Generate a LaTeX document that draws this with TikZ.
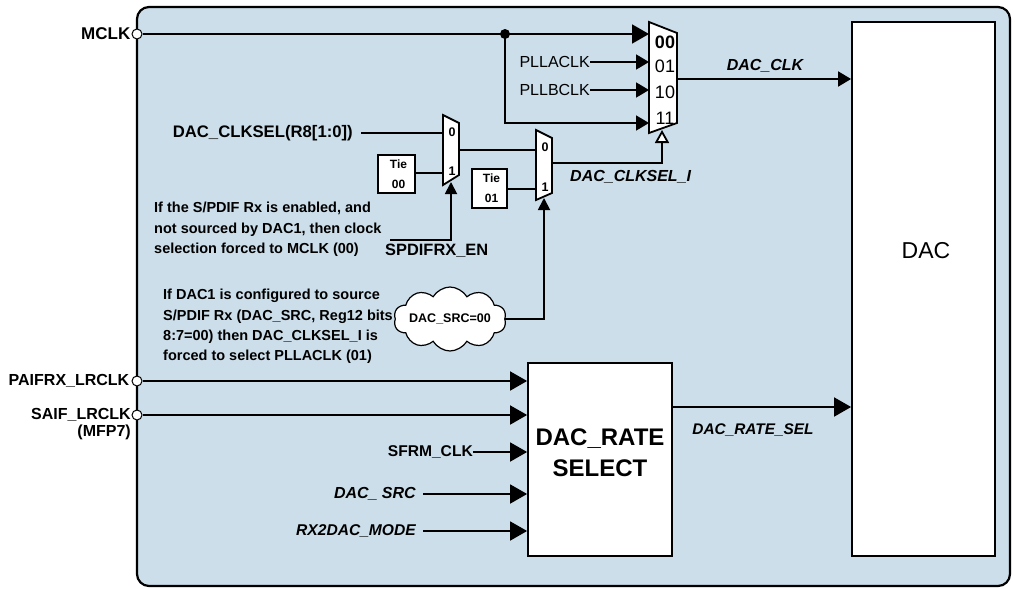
\documentclass[tikz,border=0pt]{standalone}
\usepackage{fontspec}
\setmainfont{Liberation Sans}
\usetikzlibrary{arrows.meta,shapes.symbols,positioning}
\definecolor{panel}{RGB}{204,222,234}
\tikzset{
	sig/.style={line width=1.8pt},
	wire/.style={line width=1.2pt},
	bigarr/.style={-{Triangle[length=17pt,width=19pt]}},
	midarr/.style={-{Triangle[length=13pt,width=15pt]}},
	selarr/.style={-{Triangle[length=12pt,width=12pt]}},
	pin/.style={circle, draw, fill=white, line width=1pt, minimum size=10pt, inner sep=0pt},
	box/.style={draw, fill=white, line width=1.8pt, inner sep=0pt},
	lbl/.style={font=\bfseries\fontsize{16}{17}\selectfont, inner sep=0pt},
	ilbl/.style={font=\bfseries\itshape\fontsize{16}{17}\selectfont, inner sep=0pt},
	note/.style={font=\bfseries\fontsize{14.5}{20.3}\selectfont, align=left, inner sep=0pt},
	tiebox/.style={draw, fill=white, line width=1.2pt, minimum width=37pt, minimum height=38pt, inner sep=0pt, align=center, font=\bfseries\fontsize{12}{20}\selectfont},
	muxbit/.style={font=\bfseries\fontsize{12.5}{13}\selectfont, inner sep=0pt}
}
\begin{document}
\begin{tikzpicture}[x=1pt,y=-1pt]
	\useasboundingbox (0,0) rectangle (1015,589);
	% panel
	\draw[line width=2.2pt, fill=panel, rounded corners=12pt] (137,7) rectangle (1010,586);
	% points
	\coordinate (tap) at (505,34);
	\coordinate (in00) at (649,34);
	\coordinate (in01) at (649,62);
	\coordinate (in10) at (649,90);
	\coordinate (in11) at (649,123);
	\coordinate (mxout) at (677,79);
	\coordinate (mxsel) at (662,130);
	\coordinate (m1in0) at (443,133);
	\coordinate (m1in1) at (443,173);
	\coordinate (m1out) at (459,150);
	\coordinate (m1sel) at (451,182);
	\coordinate (m2in0) at (536,150);
	\coordinate (m2in1) at (536,189);
	\coordinate (m2out) at (552,163);
	\coordinate (m2sel) at (544,198);
	\coordinate (enk) at (390,240);
	\coordinate (rsel) at (672,407);
	% blocks
	\node[box, minimum width=143pt, minimum height=534pt] (dac) at (923.5,289) {};
	\node[font=\fontsize{23}{24}\selectfont] (daclbl) at (926,251) {DAC};
	\node[box, minimum width=144pt, minimum height=193pt] (rate) at (600,459.5) {};
	\node[font=\bfseries\fontsize{24}{31}\selectfont, align=center, inner sep=0pt] (ratelbl) at (600,453) {DAC\_RATE\\SELECT};
	% muxes
	\draw[sig, fill=white] (649,22) -- (677,33) -- (677,123) -- (649,133) -- cycle;
	\node[font=\bfseries\fontsize{18}{18}\selectfont] at (665,42) {00};
	\node[font=\fontsize{18}{18}\selectfont] at (665,66) {01};
	\node[font=\fontsize{18}{18}\selectfont] at (665,92) {10};
	\node[font=\fontsize{18}{18}\selectfont] at (665,118) {11};
	\draw[sig, fill=white] (443,115) -- (459,123) -- (459,175) -- (443,185) -- cycle;
	\node[muxbit] at (452,132) {0};
	\node[muxbit] at (452,171) {1};
	\draw[sig, fill=white] (536,130) -- (552,138) -- (552,193) -- (536,200) -- cycle;
	\node[muxbit] at (545,147) {0};
	\node[muxbit] at (545,187) {1};
	% pins
	\node[pin] (mclk) at (137,34) {};
	\node[pin] (paifrx) at (137,381) {};
	\node[pin] (saif) at (137,415) {};
	\node[lbl, anchor=east, font=\bfseries\fontsize{17}{18}\selectfont] (mclklbl) at ([xshift=-1pt]mclk.west) {MCLK};
	\node[lbl, anchor=east] (paifrxlbl) at ([xshift=-2pt]paifrx.west) {PAIFRX\_LRCLK};
	\node[lbl, anchor=north east, align=right, font=\bfseries\fontsize{16}{17}\selectfont] (saiflbl) at (131,408) {SAIF\_LRCLK\\(MFP7)};
	% clock mux
	\draw[sig, bigarr] (mclk) -- (in00);
	\fill (tap) circle (5pt);
	\draw[sig, midarr] (tap) |- (in11);
	\node[anchor=east, inner sep=0pt, font=\fontsize{16}{17}\selectfont] (pllaclk) at (590,62) {PLLACLK};
	\node[anchor=east, inner sep=0pt, font=\fontsize{16}{17}\selectfont] (pllbclk) at (590,90) {PLLBCLK};
	\draw[sig, midarr] (pllaclk) -- (in01);
	\draw[sig, midarr] (pllbclk) -- (in10);
	\draw[sig, midarr] (mxout) -- (mxout -| dac.west);
	\node[ilbl] (dacclk) at (765,66) {DAC\_CLK};
	% select chain
	\node[lbl, anchor=east, font=\bfseries\fontsize{16.7}{18}\selectfont] (clksel) at (353,133) {DAC\_CLKSEL(R8[1:0])};
	\draw[wire] ([xshift=8pt]clksel.east) -- (m1in0);
	\node[tiebox] (tie0) at (396.5,174) {\hspace*{4pt}Tie\\\hspace*{4pt}00};
	\node[tiebox, minimum width=35pt, minimum height=39pt] (tie1) at (489.5,188.5) {\hspace*{4pt}Tie\\\hspace*{4pt}01};
	\draw[wire] (tie0.east |- m1in1) -- (m1in1);
	\draw[wire] (m1out) -- (m2in0);
	\draw[wire] (tie1.east |- m2in1) -- (m2in1);
	\draw[sig, -{Triangle[length=13pt,width=14pt,fill=white]}] (m2out) -| (mxsel);
	\node[ilbl, anchor=west] (clkseli) at (570,177) {DAC\_CLKSEL\_I};
	\node[lbl, anchor=north west, font=\bfseries\fontsize{16.4}{17}\selectfont] (spdifen) at (385,244) {SPDIFRX\_EN};
	\draw[sig, selarr] (enk) -| (m1sel);
	\node[note, anchor=north west] (note1) at (154,202) {If the S/PDIF Rx is enabled, and\\not sourced by DAC1, then clock\\selection forced to MCLK (00)};
	\node[note, anchor=north west] (note2) at (163,289) {If DAC1 is configured to source\\S/PDIF Rx (DAC\_SRC, Reg12 bits\\8:7=00) then DAC\_CLKSEL\_I is\\forced to select PLLACLK (01)};
	\node[cloud, draw, fill=white, line width=1.2pt, cloud puffs=10, cloud puff arc=120, cloud ignores aspect, minimum width=105pt, minimum height=64pt, inner sep=0pt, font=\bfseries\fontsize{12.5}{14}\selectfont] (srccloud) at (450,319) {DAC\_SRC=00};
	\draw[sig, selarr] (srccloud.east) -| (m2sel);
	% rate select
	\draw[sig, bigarr] (paifrx) -- (paifrx -| rate.west);
	\draw[sig, bigarr] (saif) -- (saif -| rate.west);
	\node[lbl, anchor=east, font=\bfseries\fontsize{15.6}{17}\selectfont] (sfrm) at (473,452) {SFRM\_CLK};
	\draw[sig, bigarr] (sfrm) -- (sfrm -| rate.west);
	\node[ilbl, anchor=east, inner xsep=7pt] (dacsrc) at (423,494) {DAC\_ SRC};
	\draw[sig, bigarr] (dacsrc) -- (dacsrc -| rate.west);
	\node[ilbl, anchor=east, inner xsep=7pt, font=\bfseries\itshape\fontsize{15.6}{17}\selectfont] (rx2dac) at (423,531) {RX2DAC\_MODE};
	\draw[sig, bigarr] (rx2dac) -- (rx2dac -| rate.west);
	\draw[sig, bigarr] (rsel) -- (rsel -| dac.west);
	\node[ilbl, font=\bfseries\itshape\fontsize{15.4}{17}\selectfont] (ratesel) at (753,430) {DAC\_RATE\_SEL};
\end{tikzpicture}
\end{document}
